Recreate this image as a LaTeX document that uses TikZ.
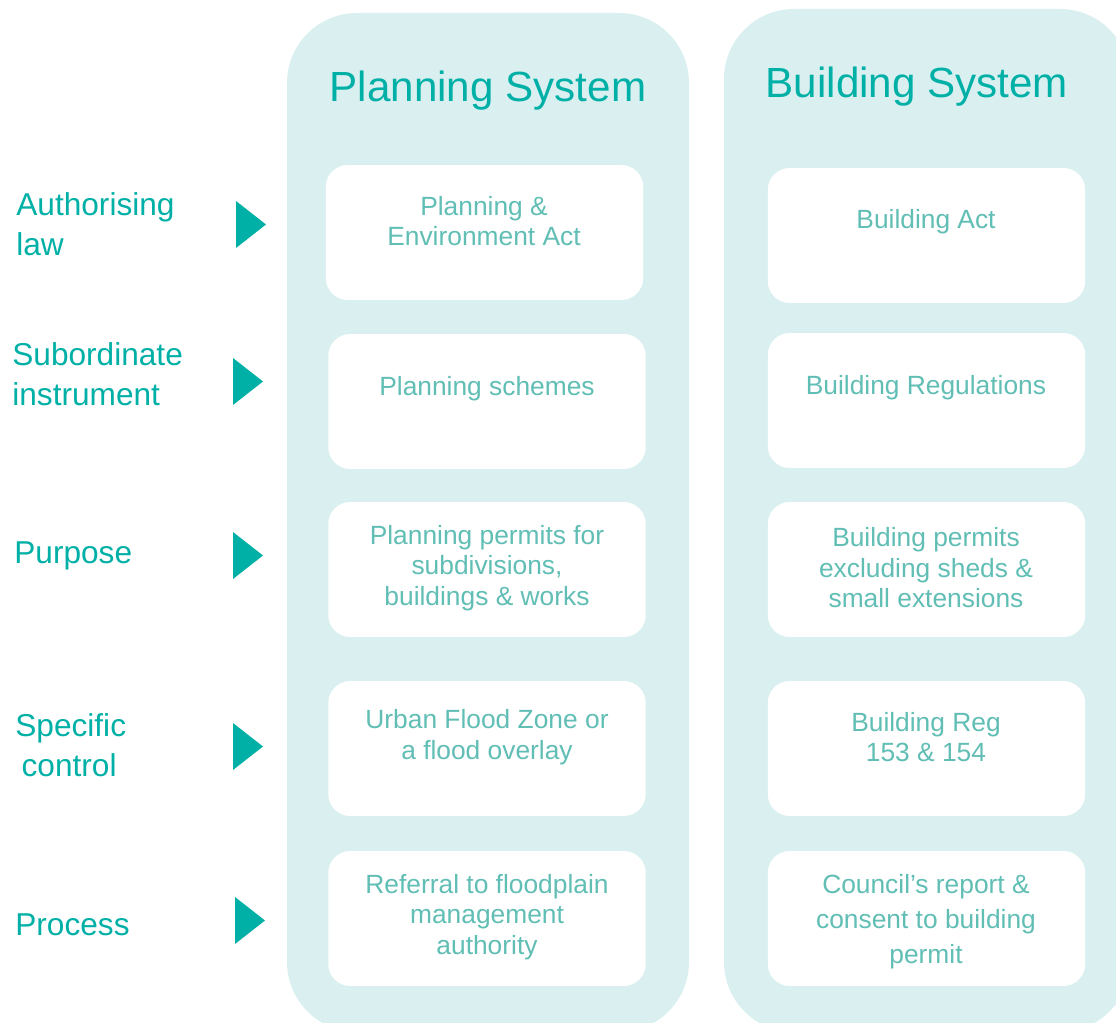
\documentclass[tikz,border=0pt]{standalone}
\usepackage{fontspec}
\setmainfont{Liberation Sans}
\usetikzlibrary{positioning}
\definecolor{headteal}{RGB}{0,176,166}
\definecolor{cellteal}{RGB}{96,190,181}
\definecolor{panelfill}{RGB}{218,240,240}

\begin{document}
\begin{tikzpicture}[x=0.02cm,y=-0.02cm,
  panel/.style={fill=panelfill,rounded corners=1.4cm},
  cell/.style={fill=white,rounded corners=0.44cm,minimum width=6.35cm,minimum height=2.7cm,inner sep=0pt},
  celltext/.style={text=cellteal,align=center,font=\fontsize{15}{17.4}\selectfont},
  heading/.style={text=headteal,font=\fontsize{24}{28}\selectfont},
  rowlabel/.style={text=headteal,anchor=west,align=left,inner sep=0pt,font=\fontsize{18}{22.8}\selectfont},
  marker/.style={fill=headteal}]
\path[use as bounding box,clip] (0,0) rectangle (1116,1023);
\fill[panel] (287,13) rectangle (689,1032);
\fill[panel] (724,9) rectangle (1130,1032);
\node[heading] (ps) at (488,91) {Planning System};
\node[heading] (bs) at (917,87) {Building System};
\node[cell] (p1) at (484.5,232.5) {};
\node[cell] (p2) at (487,401.5) {};
\node[cell] (p3) at (487,569.5) {};
\node[cell] (p4) at (487,748.5) {};
\node[cell] (p5) at (487,918.5) {};
\node[cell] (b1) at (926.5,235.5) {};
\node[cell] (b2) at (926.5,400.5) {};
\node[cell] (b3) at (926.5,569.5) {};
\node[cell] (b4) at (926.5,748.5) {};
\node[cell] (b5) at (926.5,918.5) {};
\node[celltext] (p1t) at (484,221) {Planning \&\\Environment Act};
\node[celltext] (p2t) at (487,389) {Planning schemes};
\node[celltext] (p3t) at (487,568) {Planning permits for\\subdivisions,\\buildings \& works};
\node[celltext] (p4t) at (487,737) {Urban Flood Zone or\\a flood overlay};
\node[celltext] (p5t) at (487,917) {Referral to floodplain\\management\\authority};
\node[celltext] (b1t) at (926,222) {Building Act};
\node[celltext] (b2t) at (926,388) {Building Regulations};
\node[celltext] (b3t) at (926,568) {Building permits\\excluding sheds \&\\small extensions};
\node[celltext] (b4t) at (926,737) {Building Reg\\153 \& 154};
\node[celltext,font=\fontsize{15}{20}\selectfont] (b5t) at (926,922) {Council’s report \&\\consent to building\\permit};
\node[rowlabel] (l1) at (16,224) {Authorising\\law};
\node[rowlabel] (l2) at (12,374) {Subordinate\\instrument};
\node[rowlabel] (l3) at (14,556) {Purpose};
\node[rowlabel] (l4) at (15,745) {Specific\\\hspace{0.2em}control};
\node[rowlabel] (l5) at (15,925) {Process};
\fill[marker] (236,201) -- (266,224.5) -- (236,248) -- cycle;
\fill[marker] (233,358) -- (263,381.5) -- (233,405) -- cycle;
\fill[marker] (233,532) -- (263,555.5) -- (233,579) -- cycle;
\fill[marker] (233,723) -- (263,746.5) -- (233,770) -- cycle;
\fill[marker] (235,897) -- (265,920.5) -- (235,944) -- cycle;
\end{tikzpicture}
\end{document}
